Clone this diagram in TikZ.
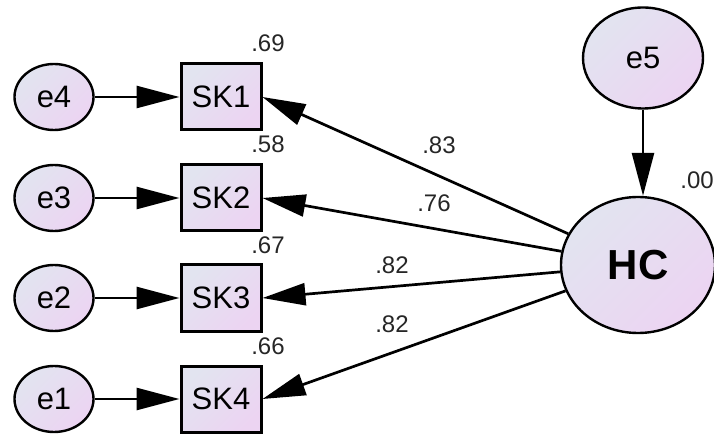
\documentclass[tikz,border=0pt]{standalone}
\usepackage{fontspec}
\setmainfont{Liberation Sans}
\usetikzlibrary{shapes.geometric,arrows.meta}
\definecolor{fillA}{RGB}{226,228,240}
\definecolor{fillB}{RGB}{236,212,242}
\tikzset{
  shadefill/.style={top color=fillA, bottom color=fillB, shading angle=45},
  errvar/.style={ellipse, draw, line width=2.4pt, shadefill, inner sep=0pt,
    minimum width=79pt, minimum height=66pt, font=\fontsize{31}{36}\selectfont},
  obsvar/.style={rectangle, draw, line width=3pt, shadefill, inner sep=0pt,
    minimum width=80pt, minimum height=66pt, font=\fontsize{31}{36}\selectfont},
  latvar/.style={ellipse, draw, line width=2.4pt, shadefill, inner sep=0pt,
    font=\bfseries\fontsize{42}{48}\selectfont},
  path/.style={line width=2.7pt, -{Triangle[length=43pt,width=22pt]}},
  coef/.style={inner sep=0pt, font=\fontsize{24}{28}\selectfont, text=black!85}
}
\begin{document}
\begin{tikzpicture}[x=1pt, y=-1pt]
  \clip (0,0) rectangle (714,435);
  \fill[white] (0,0) rectangle (714,435);

  % error terms of the indicators
  \node[errvar] (e4) at (54,97)  {e4};
  \node[errvar] (e3) at (54,198) {e3};
  \node[errvar] (e2) at (54,298) {e2};
  \node[errvar] (e1) at (54,399) {e1};

  % observed indicators
  \node[obsvar] (sk1) at (221,97)  {SK1};
  \node[obsvar] (sk2) at (221,198) {SK2};
  \node[obsvar] (sk3) at (221,298) {SK3};
  \node[obsvar] (sk4) at (221,399) {SK4};

  % latent factor and its disturbance
  \node[latvar, minimum width=120pt, minimum height=101pt,
        font=\fontsize{31}{36}\selectfont] (e5) at (643,58) {e5};
  \node[latvar, minimum width=154pt, minimum height=136pt] (hc) at (638,265) {HC};

  % error paths
  \draw[path] (e4) -- (sk1);
  \draw[path] (e3) -- (sk2);
  \draw[path] (e2) -- (sk3);
  \draw[path] (e1) -- (sk4);
  \draw[path] (e5.south) -- (hc.north -| e5.south);

  % factor loadings
  \draw[path] (hc) -- (sk1.east);
  \draw[path] (hc) -- (sk2.east);
  \draw[path] (hc) -- (sk3.east);
  \draw[path] (hc) -- (sk4.east);

  % standardized loadings
  \node[coef] (l1) at (439,145) {.83};
  \node[coef] (l2) at (434,203) {.76};
  \node[coef] (l3) at (392,265) {.82};
  \node[coef] (l4) at (392,324) {.82};

  % squared multiple correlations
  \node[coef] (r1) at (268,43)  {.69};
  \node[coef] (r2) at (268,144) {.58};
  \node[coef] (r3) at (268,245) {.67};
  \node[coef] (r4) at (268,346) {.66};
  \node[coef] (r5) at (697,180) {.00};
\end{tikzpicture}
\end{document}
